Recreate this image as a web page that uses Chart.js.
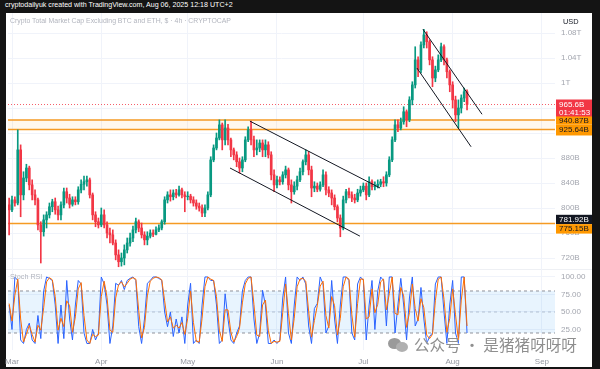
<!DOCTYPE html>
<html><head><meta charset="utf-8">
<script src="https://cdn.jsdelivr.net/npm/chart.js@4/dist/chart.umd.min.js"></script>
<style>
html,body{margin:0;padding:0}
body{width:600px;height:369px;overflow:hidden;position:relative;background:#141414;font-family:"Liberation Sans",Arial,sans-serif}
#hdr{position:absolute;left:5px;top:1px;color:#fff;font-size:7.1px;white-space:nowrap}
#panel{position:absolute;left:6px;top:13px;width:586px;height:354px;background:#fff}
#title{position:absolute;left:10px;top:17px;color:#b2b5be;font-size:6.9px;white-space:nowrap}
#usd{position:absolute;left:563px;top:17px;color:#131722;font-size:7.4px}
#rsiName{position:absolute;left:10px;top:272px;color:#b2b5be;font-size:7.2px}
#sep{position:absolute;left:6px;top:269px;width:586px;height:1px;background:#eef0f4}
canvas{position:absolute}
#main{left:-20px;top:13px}
#rsi{left:-20px;top:269px}
#wm{position:absolute;left:388px;top:333px;color:#8f8f8f;font-size:15.6px;font-family:"Noto Sans CJK SC",sans-serif;white-space:nowrap;text-shadow:0 0 2px #fff}
#wmIcon{display:inline-block;position:relative;width:22px;height:16px;vertical-align:-2px;margin-right:4px}
#wmIcon i{position:absolute;border-radius:50%;background:#9a9a9a}
</style></head>
<body>
<div id="hdr">cryptodailyuk created with TradingView.com, Aug 06, 2025 12:18 UTC+2</div>
<div id="panel"></div>
<div id="sep"></div>
<canvas id="main" width="612" height="256"></canvas>
<canvas id="rsi" width="612" height="98"></canvas>
<div id="title">Crypto Total Market Cap Excluding BTC and ETH, $ · 4h · CRYPTOCAP</div>
<div id="usd">USD</div>
<div id="rsiName">Stoch RSI</div>
<div id="wm"><span id="wmIcon"><i style="left:0;top:1px;width:13px;height:11px"></i><i style="left:8px;top:5px;width:12px;height:10px;background:#b0b0b0"></i></span>公众号 · 是猪猪呀呀呀</div>
<script>
// ---- data (daily candles, day 0 = Mar 1) ----
const startDay = -1;
const open = [805,797,813,808,893,821,848,864,837,821,813,
 773,762,781,789,802,810,797,789,805,826,
 816,806,813,810,829,838,842,845,821,789,
 778,773,789,773,760,757,744,725,714,720,
 733,744,752,765,778,768,757,749,755,760,
 758,765,768,778,813,821,818,824,821,829,
 821,818,819,813,808,803,800,792,800,821,
 877,896,912,933,909,928,909,893,885,874,
 864,877,909,925,909,893,896,904,893,901,
 885,853,837,845,842,853,861,837,826,835,
 845,858,874,885,861,832,835,830,837,853,
 829,824,816,802,784,768,813,826,821,816,
 813,824,829,835,821,842,834,835,838,842,
 840,853,877,909,933,928,938,954,941,973,
 997,1037,1021,1061,1077,1066,1037,1008,1021,1037,
 1058,1037,1018,997,973,949,960,976,986];
const high = [816,819,818,925,901,858,870,867,845,829,816,
 778,789,794,808,814,816,803,810,832,832,
 822,818,818,834,845,851,851,848,824,794,
 784,800,797,778,768,765,749,733,728,741,
 752,760,771,784,781,776,762,762,765,765,
 770,773,781,818,826,829,829,830,835,832,
 826,826,822,818,813,808,805,805,826,882,
 901,920,941,936,941,934,912,896,890,880,
 882,914,930,939,915,909,909,909,909,906,
 890,861,851,850,858,867,864,845,842,851,
 864,877,893,890,867,842,840,842,861,858,
 834,829,821,805,789,819,830,832,826,822,
 830,835,840,840,850,845,842,845,846,850,
 858,882,914,941,941,944,962,957,978,1002,
 1058,1042,1066,1086,1082,1069,1042,1027,1045,1064,
 1061,1040,1021,1002,979,973,981,992,989];
const low = [757,794,803,805,786,813,842,829,813,805,765,
 712,755,768,784,794,790,781,781,800,808,
 800,803,805,806,824,829,835,816,781,770,
 768,770,768,752,744,741,717,706,707,709,
 728,739,746,760,762,752,741,741,752,754,
 757,762,765,774,808,811,813,816,819,816,
 794,813,808,803,798,795,786,786,797,818,
 874,893,909,893,901,901,882,877,866,856,
 858,874,906,901,882,885,890,882,882,880,
 845,826,832,837,838,848,829,808,822,829,
 842,853,869,853,818,826,826,827,834,821,
 818,805,797,778,754,765,808,816,810,808,
 810,819,826,813,818,829,829,832,834,834,
 835,850,874,906,922,925,934,930,938,965,
 992,1010,1016,1056,1056,1029,994,1002,1018,1034,
 1029,1008,986,960,938,928,952,970,957];
const close = [797,813,808,893,821,848,864,837,821,813,773,
 762,781,789,802,810,797,789,805,826,816,
 806,813,810,829,838,842,845,821,789,778,
 773,789,773,760,757,744,725,714,720,733,
 744,752,765,778,768,757,749,755,760,758,
 765,768,778,813,821,818,824,821,829,821,
 818,819,813,808,803,800,792,800,821,877,
 896,912,933,909,928,909,893,885,874,864,
 877,909,925,909,893,896,904,893,901,885,
 853,837,845,842,853,861,837,826,835,845,
 858,874,885,861,832,835,830,837,853,829,
 824,816,802,784,768,813,826,821,816,813,
 824,829,835,821,842,834,835,838,842,840,
 853,877,909,933,928,938,954,941,973,997,
 1037,1021,1061,1077,1066,1037,1008,1021,1037,1058,
 1037,1018,997,973,949,960,976,986,965.6];
const stochK = [60,25,100,95,10,5,25,34,10,5,45,
 12,80,100,98,95,60,5,60,12,95,
 40,10,60,95,90,20,5,5,25,10,
 20,100,90,60,5,30,91,88,95,82,
 95,98,100,95,29,5,40,91,95,100,
 100,98,95,50,29,50,15,40,20,43,
 5,60,91,5,10,5,60,100,100,95,
 95,60,5,10,76,40,10,5,20,30,
 80,95,100,100,40,5,20,81,60,5,
 5,10,5,10,70,100,20,5,60,100,
 95,100,90,30,5,55,62,100,90,20,
 30,95,40,5,60,100,100,95,20,10,
 90,100,95,10,60,95,25,80,100,95,
 30,100,100,20,60,98,60,10,70,100,
 30,40,85,40,5,15,20,90,100,100,
 50,5,60,95,20,5,100,100,20];
const stochD = [62,37,74,97,40,7,18,31,18,7,31,
 24,56,93,99,96,72,24,41,29,66,
 59,21,43,83,92,45,10,5,18,15,
 17,72,94,71,24,21,70,89,93,86,
 91,97,99,97,52,13,28,73,94,98,
 100,99,96,66,36,43,27,31,27,35,
 18,41,80,35,8,7,41,86,100,97,
 95,72,24,8,53,53,21,7,15,27,
 63,90,98,100,61,17,15,60,67,24,
 5,8,7,8,49,90,48,10,41,86,
 97,98,94,51,14,38,59,87,94,45,
 27,72,59,17,41,86,100,97,46,14,
 62,97,97,40,43,83,49,61,93,97,
 53,76,100,48,46,85,73,28,49,90,
 55,37,69,56,17,12,18,66,97,100,
 68,21,41,83,46,10,67,100,30];
const monthTicks = [0,31,61,92,122,153,184];
const monthLabels = ['Mar','Apr','May','Jun','Jul','Aug','Sep'];
const priceTicks = [720,760,800,840,880,920,960,1000,1040,1080];
const priceTickLabels = ['720B','760B','800B','840B','880B','920B','960B','1T','1.04T','1.08T'];
const rsiTicks = [25,50,75,100];
const rsiTickLabels = ['25.00','50.00','75.00','100.00'];
const levels = [940.87,925.64,775.15];
const levelLabels = ['940.87B','925.64B','775.15B'];
const lastPrice = 965.6, lastLabel = '965.6B', countdown = '01:41:53';
const markPrice = 781.92, markLabel = '781.92B';
const channelA = [[[82.6,939],[127.8,832]],[[75.7,864],[120.8,755]]];
const channelB = [[[142.7,1086],[163.2,950]],[[140.6,1024],[159.4,898]]];
const rsiBands = [80,50,20];

// ---- styles ----
const GREEN='#089981', RED='#f23645', ORANGE='#f59a23', GRID='#f0f3fa', TXT='#9598a1';
const X_MIN=-1.39, X_MAX=188.54;
Chart.defaults.font.family='"Liberation Sans", Arial, sans-serif';
const noPad = s=>{s.paddingTop=0;s.paddingBottom=0;s.paddingLeft=0;s.paddingRight=0;};
const xs = (show)=>({type:'linear',min:X_MIN,max:X_MAX,offset:false,
  afterBuildTicks:s=>{s.ticks=monthTicks.map(v=>({value:v}));},
  ticks:{display:show,autoSkip:false,maxRotation:0,color:TXT,font:{size:8},padding:7,
    callback:v=>monthLabels[monthTicks.indexOf(v)]},
  grid:{color:GRID,drawTicks:false,offset:false},border:{display:false},
  afterFit:s=>{s.height=show?17:0;noPad(s);}});
const ys = (mn,mx,tks,lbls)=>({type:'linear',position:'right',min:mn,max:mx,
  afterBuildTicks:s=>{s.ticks=tks.map(v=>({value:v}));},
  ticks:{color:'#a3a6af',font:{size:8},padding:6,autoSkip:false,callback:v=>lbls[tks.indexOf(v)]},
  grid:{color:GRID,drawTicks:false},border:{display:false},afterFit:s=>{s.width=37;noPad(s);}});
const colors = close.map((c,i)=>c>=open[i]?GREEN:RED);
const xOf = i=>startDay+i;
const seg = (pts,color,extra)=>Object.assign({type:'line',data:pts.map(p=>({x:p[0],y:p[1]})),borderColor:color,borderWidth:1,pointRadius:0,fill:false},extra||{});

const boxPlugin={id:'boxes',afterDraw(chart){
  const {ctx,scales:{y},chartArea}=chart;
  const L=chartArea.right+1,W=36;
  ctx.save();ctx.font='8px "Liberation Sans", Arial';ctx.textBaseline='middle';
  const box=(t,b,bg,fg,items)=>{ctx.fillStyle=bg;ctx.fillRect(L,t,W,b-t);ctx.fillStyle=fg;items.forEach(([s,yy])=>ctx.fillText(s,L+3,yy));};
  const yl=y.getPixelForValue(lastPrice);
  box(yl-5,yl+13,RED,'#fff',[[lastLabel,yl],[countdown,yl+8.5]]);
  const y1=y.getPixelForValue(levels[0]),y2=y.getPixelForValue(levels[1]),mid=(y1+y2)/2;
  box(y1-3.5,mid,'#ff9800','#131722',[[levelLabels[0],y1+0.5]]);
  box(mid,y2+6,'#ff9800','#131722',[[levelLabels[1],y2]]);
  const ym=y.getPixelForValue(markPrice);
  box(ym-4.5,ym+4.8,'#131722','#fff',[[markLabel,ym]]);
  box(ym+4.8,ym+14.3,'#ff9800','#131722',[[levelLabels[2],ym+9.8]]);
  ctx.restore();
}};

new Chart(document.getElementById('main'),{
  type:'bar',
  data:{datasets:[
    seg(channelA[0],'#131722',{order:0}),seg(channelA[1],'#131722',{order:0}),
    seg(channelB[0],'#131722',{order:0}),seg(channelB[1],'#131722',{order:0}),
    {type:'bar',order:1,grouped:false,barThickness:2,data:open.map((o,i)=>({x:xOf(i),y:[o,close[i]]})),backgroundColor:colors},
    {type:'bar',order:2,grouped:false,barThickness:1,data:low.map((l,i)=>({x:xOf(i),y:[l,high[i]]})),backgroundColor:colors},
    seg([[X_MIN,levels[0]],[X_MAX,levels[0]]],ORANGE,{order:3,borderWidth:1.4}),
    seg([[X_MIN,levels[1]],[X_MAX,levels[1]]],ORANGE,{order:3,borderWidth:1.4,fill:'-1',backgroundColor:'rgba(255,152,0,0.07)'}),
    seg([[X_MIN,levels[2]],[X_MAX,levels[2]]],ORANGE,{order:3,borderWidth:1.4}),
    seg([[X_MIN,lastPrice],[X_MAX,lastPrice]],RED,{order:3,borderDash:[1,2],borderWidth:0.8})
  ]},
  options:{responsive:false,animation:false,layout:{padding:{left:28,right:0,top:0,bottom:0}},
    plugins:{legend:{display:false},tooltip:{enabled:false}},
    scales:{x:xs(false),y:ys(702.4,1112,priceTicks,priceTickLabels)}},
  plugins:[boxPlugin]
});

new Chart(document.getElementById('rsi'),{
  type:'line',
  data:{datasets:[
    seg([[X_MIN,rsiBands[0]],[X_MAX,rsiBands[0]]],'#8f929b',{order:5,borderDash:[3,3]}),
    seg([[X_MIN,rsiBands[2]],[X_MAX,rsiBands[2]]],'#8f929b',{order:5,borderDash:[3,3],fill:'-1',backgroundColor:'rgba(33,150,243,0.1)'}),
    seg([[X_MIN,rsiBands[1]],[X_MAX,rsiBands[1]]],'#c3c6ce',{order:5,borderDash:[3,3]}),
    {type:'line',order:2,data:stochK.map((v,i)=>({x:xOf(i),y:v})),borderColor:'#2962ff',borderWidth:1,pointRadius:0,tension:0},
    {type:'line',order:1,data:stochD.map((v,i)=>({x:xOf(i),y:v})),borderColor:'#ff6d00',borderWidth:1,pointRadius:0,tension:0}
  ]},
  options:{responsive:false,animation:false,layout:{padding:{left:28,right:0,top:0,bottom:0}},
    plugins:{legend:{display:false},tooltip:{enabled:false}},
    scales:{x:xs(true),y:ys(-4.3,111.4,rsiTicks,rsiTickLabels)}}
});
</script>
</body></html>
